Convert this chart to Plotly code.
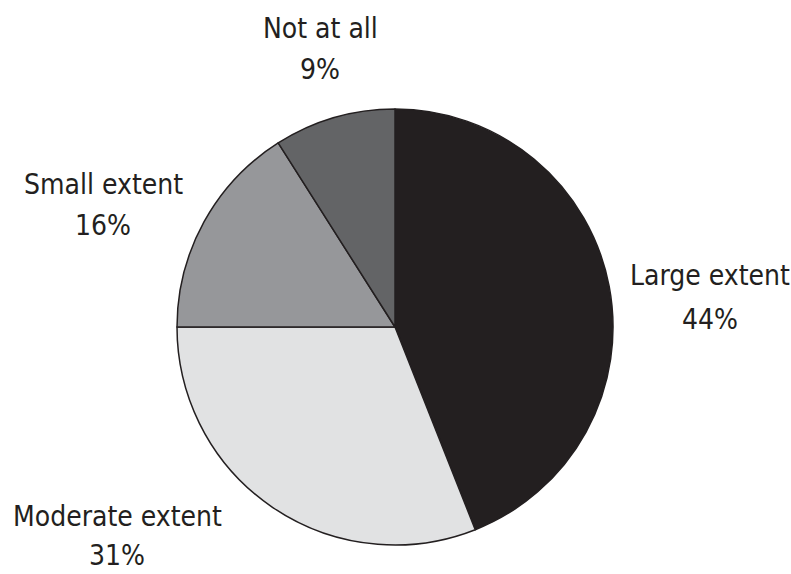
import plotly.graph_objects as go

categories = ["Large extent", "Moderate extent", "Small extent", "Not at all"]
values = [44, 31, 16, 9]
colors = ["#231f20", "#e1e2e3", "#96979a", "#636466"]

W, H = 791, 574
cx, cy, r = 395, 327, 218

# label layout: (center-x, cap-top of name line, cap-top of percent line) in pixels
label_pos = [(710, 263, 307), (117, 504, None), (103, 172, 213), (320, 16, 57)]
CAP_OFFSET = 6  # distance from annotation box top to glyph cap top

fig = go.Figure(go.Pie(
    labels=categories, values=values, sort=False, direction="clockwise", rotation=0,
    marker=dict(colors=colors, line=dict(color="#231f20", width=1.5)),
    textinfo="none", hoverinfo="label+percent", showlegend=False,
    domain=dict(x=[(cx - r) / W, (cx + r) / W], y=[1 - (cy + r) / H, 1 - (cy - r) / H]),
))

total = sum(values)
font = dict(family="Liberation Sans Narrow, DejaVu Sans Condensed, Arial Narrow, sans-serif",
            size=28, color="#231f20")
for cat, v, (px, y1, y2) in zip(categories, values, label_pos):
    pct = f"{round(100 * v / total)}%"
    fig.add_annotation(text=cat, x=px / W, y=1 - (y1 - CAP_OFFSET) / H,
                       xref="paper", yref="paper", xanchor="center", yanchor="top",
                       showarrow=False, font=font, align="center")
    if y2 is None:  # sits on the bottom edge of the page
        fig.add_annotation(text=pct, x=px / W, y=0, xref="paper", yref="paper",
                           xanchor="center", yanchor="bottom", showarrow=False,
                           font=font, align="center")
    else:
        fig.add_annotation(text=pct, x=px / W, y=1 - (y2 - CAP_OFFSET) / H,
                           xref="paper", yref="paper", xanchor="center", yanchor="top",
                           showarrow=False, font=font, align="center")

fig.update_layout(width=W, height=H, margin=dict(l=0, r=0, t=0, b=0),
                  paper_bgcolor="white", plot_bgcolor="white")
fig.write_html("out.html")
